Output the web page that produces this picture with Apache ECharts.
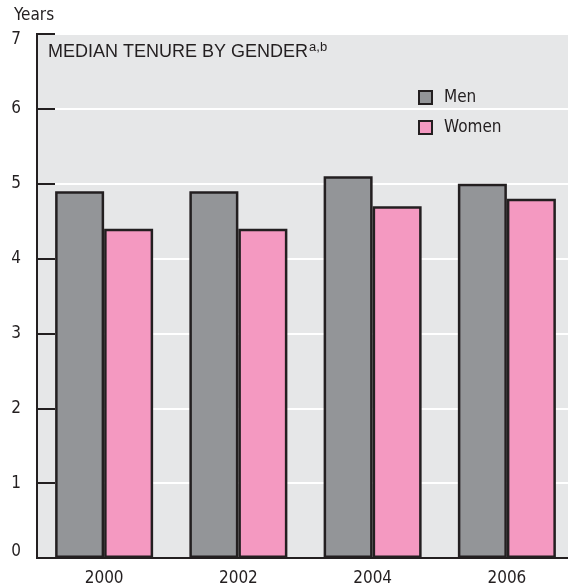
<!DOCTYPE html>
<html><head><meta charset="utf-8">
<script src="https://cdn.jsdelivr.net/npm/echarts@6/dist/echarts.min.js"></script>
<style>html,body{margin:0;padding:0;background:#fff}#c{width:568px;height:586px}</style>
</head><body><div id="c"></div>
<script>
var categories = ['2000', '2002', '2004', '2006'];
var menValues = [4.9, 4.9, 5.1, 5.0];
var womenValues = [4.4, 4.4, 4.7, 4.8];
var yTicks = [0, 1, 2, 3, 4, 5, 6, 7];

var narrow = "'Liberation Sans Narrow', 'Arial Narrow', 'DejaVu Sans Condensed', sans-serif";
var ink = '#231f20';
var chart = echarts.init(document.getElementById('c'));
chart.setOption({
  animation: false,
  backgroundColor: '#ffffff',
  title: {
    text: '{t|MEDIAN TENURE BY GENDER}{s|a,b}',
    left: 43, top: 36,
    textStyle: {
      fontWeight: 'normal',
      rich: {
        t: { fontFamily: "'Liberation Sans', Arial, sans-serif", fontSize: 18, fontWeight: 'normal', color: ink, verticalAlign: 'bottom', lineHeight: 20 },
        s: { fontFamily: "'Liberation Sans', Arial, sans-serif", fontSize: 13, fontWeight: 'normal', color: ink, verticalAlign: 'top', lineHeight: 20, padding: [0, 0, 7, 1] }
      }
    }
  },
  legend: {
    orient: 'vertical', left: 418, top: 89, padding: 0,
    itemWidth: 13, itemHeight: 13, itemGap: 13,
    icon: 'rect',
    itemStyle: { borderColor: ink, borderWidth: 2 },
    textStyle: { fontFamily: narrow, fontSize: 17, color: ink, padding: [0, 0, 0, 7] },
    data: ['Men', 'Women']
  },
  grid: {
    left: 37, width: 537, top: 34, bottom: 28,
    outerBoundsMode: 'none', containLabel: false,
    show: true, backgroundColor: '#e6e7e8', borderColor: ink, borderWidth: 2
  },
  xAxis: {
    type: 'category', data: categories,
    axisLine: { show: true, lineStyle: { color: ink, width: 2 } },
    axisTick: { show: false },
    axisLabel: { fontFamily: narrow, fontSize: 17, color: ink, margin: 12 }
  },
  yAxis: {
    type: 'value', min: 0, max: 7, interval: 1,
    name: 'Years', nameLocation: 'end', nameGap: 10,
    nameTextStyle: { fontFamily: narrow, fontSize: 17, color: ink, align: 'left', padding: [0, 0, 0, -23] },
    axisLine: { show: true, lineStyle: { color: ink, width: 2 } },
    axisTick: { show: true, inside: true, length: 18, lineStyle: { color: ink, width: 2 } },
    axisLabel: { fontFamily: narrow, fontSize: 17, color: ink, margin: 16,
      formatter: function (v) {
        if (yTicks.indexOf(v) < 0) return '';
        if (v === yTicks[yTicks.length - 1]) return '{hi|' + v + '}';
        if (v === yTicks[0]) return '{lo|' + v + '}';
        return String(v);
      },
      rich: {
        hi: { fontFamily: narrow, fontSize: 17, color: ink, padding: [12, 0, 0, 0] },
        lo: { fontFamily: narrow, fontSize: 17, color: ink, padding: [0, 0, 12, 0] }
      }
    },
    splitLine: { show: true, lineStyle: { color: '#ffffff', width: 2 } }
  },
  series: [
    { name: 'Men', type: 'bar', data: menValues, barGap: '0%', barCategoryGap: '27%',
      itemStyle: { color: '#939598', borderColor: ink, borderWidth: 2.5 } },
    { name: 'Women', type: 'bar', data: womenValues,
      itemStyle: { color: '#f499c1', borderColor: ink, borderWidth: 2.5 } }
  ]
});
</script></body></html>
